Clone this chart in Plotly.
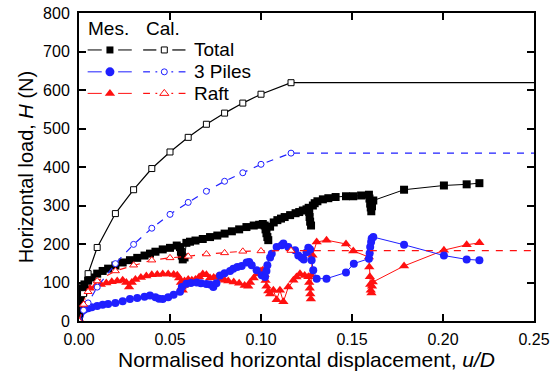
import plotly.graph_objects as go

# ---------------- data ----------------
# Calculated (open markers)
cal_x = [0, 0.0025, 0.005, 0.01, 0.02, 0.03, 0.04, 0.05, 0.06, 0.07, 0.08, 0.09, 0.10, 0.1165, 0.25]
cal_total = [0, 71, 123, 191, 279, 341, 396, 439, 477, 511, 540, 566, 589, 619, 619]
cal_piles = [0, 28, 47, 88, 149, 199, 241, 277, 308, 337, 363, 385, 407, 436, 436]
cal_raft = [0, 43, 76, 104, 130, 145, 158, 164, 168, 174, 177, 181, 182, 183, 183]
cal_marker_count = 14  # last point is the plateau end (line only)

# Measured total (filled squares)
mes_total_x = [0, 0.0005, 0.001, 0.002, 0.003, 0.005, 0.007, 0.010, 0.013, 0.016, 0.020,
               0.024, 0.028, 0.032, 0.036, 0.039, 0.042, 0.046, 0.050, 0.0537, 0.0555,
               0.0560, 0.0565, 0.0570, 0.0580, 0.0590, 0.061, 0.064, 0.068, 0.072, 0.076,
               0.080, 0.084, 0.088, 0.092, 0.096, 0.099, 0.101, 0.102, 0.1025, 0.103,
               0.1035, 0.104, 0.105, 0.107, 0.109, 0.111, 0.113, 0.116, 0.119, 0.121,
               0.123, 0.125, 0.1262, 0.1265, 0.1267, 0.1270, 0.1275, 0.1285, 0.1295,
               0.131, 0.134, 0.137, 0.141, 0.1467, 0.1507, 0.155, 0.1593, 0.1596, 0.1600,
               0.1603, 0.1606, 0.1610, 0.1617, 0.1786, 0.2005, 0.213, 0.220]
mes_total = [20, 50, 70, 85, 95, 105, 113, 123, 130, 136, 144,
             152, 158, 164, 170, 175, 180, 186, 190, 196, 192,
             180, 170, 160, 165, 203, 206, 209, 213, 218, 222,
             227, 233, 238, 244, 248, 250, 252, 248, 238, 228,
             218, 210, 245, 256, 262, 266, 270, 275, 280, 283,
             287, 290, 294, 283, 270, 258, 248, 300, 306,
             311, 316, 319, 322, 324, 324, 326, 328, 318, 305,
             295, 285, 298, 313, 341, 352, 355, 358]

# Measured 3 piles (filled circles)
mes_piles_x = [0, 0.0005, 0.001, 0.002, 0.003, 0.005, 0.007, 0.010, 0.013, 0.016, 0.020,
               0.024, 0.028, 0.032, 0.036, 0.039, 0.042, 0.044, 0.046, 0.049, 0.052,
               0.0555, 0.0565, 0.059, 0.0615, 0.0647, 0.067, 0.070, 0.072, 0.0738, 0.0755,
               0.0775, 0.080, 0.083, 0.0848, 0.087, 0.0894, 0.0921, 0.0935, 0.0949, 0.0976,
               0.1004, 0.1022, 0.103, 0.1035, 0.105, 0.1059, 0.1086, 0.1114, 0.1123, 0.115,
               0.1187, 0.1205, 0.1224, 0.1235, 0.125, 0.126, 0.127, 0.1278, 0.1287, 0.1306,
               0.136, 0.1467, 0.151, 0.1593, 0.1597, 0.160, 0.1605, 0.1608, 0.1617, 0.1786,
               0.2005, 0.213, 0.220]
mes_piles = [5, 15, 22, 27, 30, 33, 36, 39, 42, 44, 47,
             51, 57, 60, 63, 66, 62, 58, 57, 62, 68,
             76, 88, 97, 99, 100, 98, 96, 95, 88, 98,
             118, 124, 130, 136, 140, 143, 152, 153, 145, 132,
             119, 114, 130, 145, 165, 175, 192, 197, 201, 192,
             184, 170, 164, 160, 178, 190, 186, 158, 132, 110,
             110, 126, 149, 162, 176, 192, 205, 214, 218, 198,
             170, 160, 158]

# Measured raft (filled triangles)
mes_raft_x = [0, 0.0003, 0.0006, 0.001, 0.002, 0.004, 0.006, 0.009, 0.012, 0.015, 0.018,
              0.021, 0.024, 0.026, 0.0275, 0.029, 0.031, 0.034, 0.037, 0.040, 0.043,
              0.046, 0.049, 0.052, 0.054, 0.055, 0.056, 0.0565, 0.057, 0.0575, 0.058,
              0.060, 0.062, 0.064, 0.066, 0.068, 0.070, 0.072, 0.074, 0.076, 0.078,
              0.080, 0.082, 0.085, 0.088, 0.091, 0.093, 0.094, 0.096, 0.098, 0.100,
              0.101, 0.102, 0.1025, 0.103, 0.104, 0.105, 0.1068, 0.1086, 0.1104, 0.1123,
              0.115, 0.1178, 0.1195, 0.1214, 0.124, 0.126, 0.1265, 0.1268, 0.1271, 0.1274,
              0.1276, 0.1283, 0.1306, 0.136, 0.1467, 0.1507, 0.1593, 0.1595, 0.1598, 0.160,
              0.1603, 0.1607, 0.161, 0.1614, 0.1786, 0.2005, 0.213, 0.220]
mes_raft = [5, 30, 50, 62, 72, 80, 85, 90, 95, 99, 102,
            104, 106, 100, 88, 100, 108, 113, 117, 120, 121,
            122, 122, 121, 119, 112, 100, 88, 80, 92, 104,
            108, 106, 108, 114, 122, 120, 112, 113, 115, 110,
            106, 104, 101, 98, 92, 90, 100, 112, 122, 130,
            132, 120, 105, 90, 78, 70, 80, 55, 80, 50,
            88, 106, 114, 123, 118, 115, 100, 85, 70, 57,
            119, 171, 205, 210, 200, 182, 166, 140, 115, 95,
            80, 73, 90, 101, 143, 184, 198, 203]

BLUE = "#1f1fff"
RED = "#ff1010"
BLACK = "#000000"
FONT = "Liberation Sans, Arial, sans-serif"
DASH = "7px,7px"

fig = go.Figure()


def add_mes(x, y, color, symbol, size):
    fig.add_trace(go.Scatter(x=x, y=y, mode="lines+markers",
                             line=dict(color=color, width=1),
                             marker=dict(symbol=symbol, size=size, color=color,
                                         line=dict(width=0)),
                             showlegend=False))


def add_cal(y, color, dash, symbol, size):
    fig.add_trace(go.Scatter(x=cal_x, y=y, mode="lines",
                             line=dict(color=color, width=1.2, dash=dash),
                             showlegend=False, hoverinfo="skip"))
    fig.add_trace(go.Scatter(x=cal_x[:cal_marker_count], y=y[:cal_marker_count], mode="markers",
                             marker=dict(symbol=symbol, size=size, color="white",
                                         line=dict(color=color, width=1)),
                             showlegend=False))


add_mes(mes_raft_x, mes_raft, RED, "triangle-up", 9)
add_mes(mes_piles_x, mes_piles, BLUE, "circle", 8)
add_mes(mes_total_x, mes_total, BLACK, "square", 8)

add_cal(cal_total, BLACK, "solid", "square", 6)
add_cal(cal_piles, BLUE, DASH, "circle", 6)
add_cal(cal_raft, RED, DASH, "triangle-up", 7)

# ---------------- custom legend (overlay axes in [0,1]) ----------------
legend_names = ["Total", "3 Piles", "Raft"]
legend_colors = [BLACK, BLUE, RED]
legend_symbols = ["square", "circle", "triangle-up"]
legend_dashed = [False, True, True]
legend_rows = [0.880, 0.809, 0.739]
for name, col, sym, dashed, yy in zip(legend_names, legend_colors, legend_symbols,
                                      legend_dashed, legend_rows):
    # measured sample: line - filled marker - line
    for seg in ([0.019, 0.050], [0.086, 0.116]):
        fig.add_trace(go.Scatter(x=seg, y=[yy, yy], mode="lines",
                                 line=dict(color=col, width=1), xaxis="x2", yaxis="y2",
                                 showlegend=False, hoverinfo="skip"))
    fig.add_trace(go.Scatter(x=[0.068], y=[yy], mode="markers",
                             marker=dict(symbol=sym, size=7 if sym == "square" else 9,
                                         color=col, line=dict(width=0)),
                             xaxis="x2", yaxis="y2", showlegend=False, hoverinfo="skip"))
    # calculated sample: line - open marker - line
    segs = ([0.141, 0.170], [0.205, 0.234]) if not dashed else ([0.141, 0.156], [0.168, 0.172], [0.203, 0.207], [0.219, 0.234])
    for seg in segs:
        fig.add_trace(go.Scatter(x=seg, y=[yy, yy], mode="lines",
                                 line=dict(color=col, width=1.2), xaxis="x2", yaxis="y2",
                                 showlegend=False, hoverinfo="skip"))
    fig.add_trace(go.Scatter(x=[0.1875], y=[yy], mode="markers",
                             marker=dict(symbol=sym, size=6 if sym != "triangle-up" else 8,
                                         color="white", line=dict(color=col, width=1)),
                             xaxis="x2", yaxis="y2", showlegend=False, hoverinfo="skip"))
    fig.add_annotation(x=0.249, y=yy, xref="x2", yref="y2", text=name, showarrow=False,
                       xanchor="left", yanchor="middle",
                       font=dict(size=19, color=BLACK, family=FONT))

fig.add_annotation(x=0.064, y=0.951, xref="x2", yref="y2", text="Mes.", showarrow=False,
                   xanchor="center", yanchor="middle", font=dict(size=19, color=BLACK, family=FONT))
fig.add_annotation(x=0.185, y=0.951, xref="x2", yref="y2", text="Cal.", showarrow=False,
                   xanchor="center", yanchor="middle", font=dict(size=19, color=BLACK, family=FONT))

axis_common = dict(showgrid=False, zeroline=False, showline=True, linecolor=BLACK, linewidth=2,
                   mirror="ticks", ticks="inside", ticklen=7, tickwidth=1.5, tickcolor=BLACK,
                   tickfont=dict(size=16, color=BLACK, family=FONT), automargin=False)

fig.update_layout(
    width=555, height=376,
    margin=dict(l=79, r=21, t=13, b=55),
    paper_bgcolor="white", plot_bgcolor="white",
    font=dict(family=FONT, color=BLACK),
    xaxis=dict(range=[0, 0.25], tickvals=[0, 0.05, 0.10, 0.15, 0.20, 0.25],
               ticktext=["0.00", "0.05", "0.10", "0.15", "0.20", "0.25"],
               title=dict(text="Normalised horizontal displacement, <i>u/D</i>",
                          font=dict(size=21, color=BLACK, family=FONT), standoff=5),
               ticklabelstandoff=3,
               **axis_common),
    yaxis=dict(range=[0, 800], tickvals=[0, 100, 200, 300, 400, 500, 600, 700, 800],
               title=dict(text="Horizontal load, <i>H</i> (N)",
                          font=dict(size=20, color=BLACK, family=FONT), standoff=4),
               ticklabelstandoff=4,
               **axis_common),
    xaxis2=dict(range=[0, 1], overlaying="x", visible=False, domain=[0, 1]),
    yaxis2=dict(range=[0, 1], overlaying="y", visible=False, domain=[0, 1]),
    showlegend=False,
)

fig.write_html("out.html")
